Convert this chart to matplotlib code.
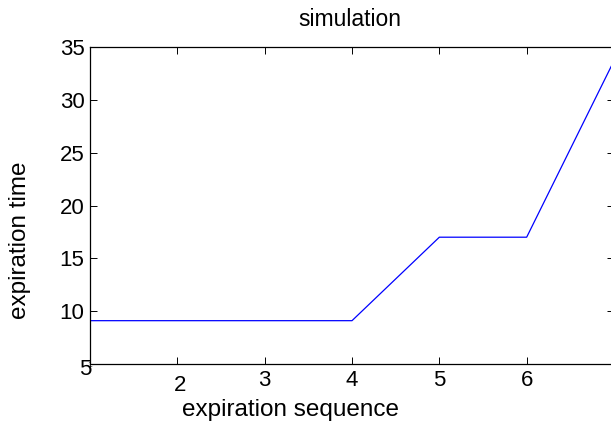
import matplotlib
matplotlib.use('Agg')
import matplotlib.pyplot as plt
import matplotlib.transforms as mtransforms

plt.rcParams['font.family'] = ['Liberation Sans', 'DejaVu Sans']

seq = [1, 2, 3, 4, 5, 6, 7]
exp_time = [9.1, 9.1, 9.1, 9.1, 17, 17, 33.7]
xticks = [1, 2, 3, 4, 5, 6]
yticks = [5, 10, 15, 20, 25, 30, 35]

fig = plt.figure(figsize=(6.11, 4.25), dpi=100)
ax = fig.add_axes([90/611, 61/425, 524/611, 317/425])

ax.plot(seq, exp_time, color='#0000ff', lw=0.9)
ax.set_xlim(1, 7)
ax.set_ylim(5, 35)
ax.set_xticks(xticks)
ax.set_yticks(yticks)
ax.tick_params(direction='in', length=5, width=0.7, top=True, right=True,
               labelsize=16)
ax.tick_params(axis='y', pad=4)
ax.tick_params(axis='x', pad=4)
for s in ax.spines.values():
    s.set_linewidth(0.9)

# matlab-ish quirks of the original export
xl = ax.get_xticklabels()
xl[0].set_fontsize(6)
xl[0].set_transform(xl[0].get_transform() + mtransforms.ScaledTranslation(0, 8/100, fig.dpi_scale_trans))
xl[1].set_transform(xl[1].get_transform() + mtransforms.ScaledTranslation(3/100, -5/100, fig.dpi_scale_trans))
yl = ax.get_yticklabels()
yl[0].set_transform(yl[0].get_transform() + mtransforms.ScaledTranslation(7/100, -3/100, fig.dpi_scale_trans))

fig.text(350/611, 1 - 20/425, 'simulation', ha='center', va='center', fontsize=16.5)
fig.text(290/611, 1 - 410/425, 'expiration sequence', ha='center', va='center', fontsize=17.5)
fig.text(20/611, 1 - 240/425, 'expiration time', ha='center', va='center', rotation=90, fontsize=17.5)

fig.savefig('out.png', dpi=100)
